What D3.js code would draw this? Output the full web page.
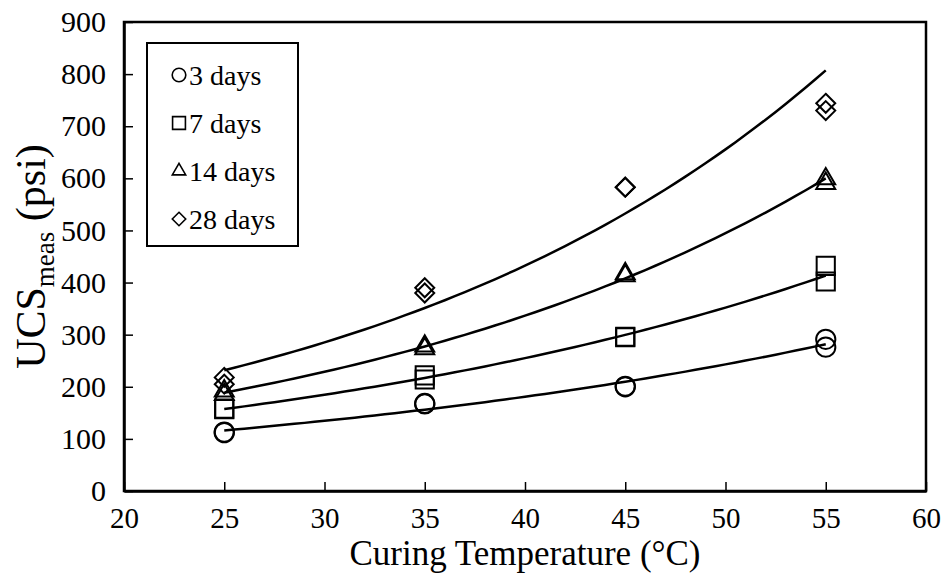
<!DOCTYPE html>
<html>
<head>
<meta charset="utf-8">
<script src="https://cdn.jsdelivr.net/npm/d3@7"></script>
<style>
  body { margin: 0; background: #fff; }
</style>
</head>
<body>
<script>
// temperatures (°C) and measured UCS (psi), two replicates each
const temps = [25, 35, 45, 55];
const ucs3 = [[113, 112], [168, 167], [201, 200], [291, 276]];
const ucs7 = [[158, 157], [222, 214], [296, 295], [432, 402]];
const ucs14 = [[192, 185], [278, 273], [417, 413], [599, 590]];
const ucs28 = [[218, 205], [390, 380], [583, 583], [744, 730]];
const seriesNames = ['3 days', '7 days', '14 days', '28 days'];
const xTicks = [20, 25, 30, 35, 40, 45, 50, 55, 60];
const yTicks = [0, 100, 200, 300, 400, 500, 600, 700, 800, 900];

const FONT = '"Liberation Serif", "Times New Roman", Tinos, "DejaVu Serif", serif';
const width = 947, height = 574;
const margin = { left: 124, right: 21, top: 22, bottom: 83 };

const svg = d3.select('body').append('svg')
  .attr('width', width)
  .attr('height', height)
  .style('font-family', FONT);

const x = d3.scaleLinear().domain([20, 60]).range([margin.left, width - margin.right]);
const y = d3.scaleLinear().domain([0, 900]).range([height - margin.bottom, margin.top]);

// square diamond: a square turned 45 degrees
const diamond = {
  draw(ctx, size) {
    const r = Math.sqrt(size) / 2 * Math.SQRT2;
    ctx.moveTo(0, -r); ctx.lineTo(r, 0); ctx.lineTo(0, r); ctx.lineTo(-r, 0); ctx.closePath();
  }
};

const series = [ucs3, ucs7, ucs14, ucs28].map((vals, i) => ({
  name: seriesNames[i],
  symbol: [d3.symbolCircle, d3.symbolSquare, d3.symbolTriangle, diamond][i],
  size: [290, 330, 155, 180][i],
  points: vals.flatMap((reps, j) => reps.map(v => ({ t: temps[j], v })))
}));

// exponential trendline: least squares on ln(UCS)
function expFit(points) {
  const mx = d3.mean(points, p => p.t);
  const my = d3.mean(points, p => Math.log(p.v));
  let sxy = 0, sxx = 0;
  points.forEach(p => {
    sxy += (p.t - mx) * (Math.log(p.v) - my);
    sxx += (p.t - mx) * (p.t - mx);
  });
  const b = sxy / sxx;
  const a = Math.exp(my - b * mx);
  return t => a * Math.exp(b * t);
}

// frame
svg.append('rect')
  .attr('x', margin.left).attr('y', margin.top)
  .attr('width', width - margin.left - margin.right)
  .attr('height', height - margin.top - margin.bottom)
  .attr('fill', 'none').attr('stroke', '#000').attr('stroke-width', 2.5);

// x axis (ticks inside)
const xAxis = svg.append('g')
  .attr('transform', `translate(0,${height - margin.bottom})`)
  .call(d3.axisBottom(x).tickValues(xTicks).tickSizeInner(-9).tickSizeOuter(0).tickPadding(16));
xAxis.select('.domain').attr('stroke-width', 2.5);
xAxis.selectAll('.tick line').attr('stroke-width', 1.5);
xAxis.selectAll('text').style('font-family', FONT).style('font-size', '29px');

// y axis (ticks inside)
const yAxis = svg.append('g')
  .attr('transform', `translate(${margin.left},0)`)
  .call(d3.axisLeft(y).tickValues(yTicks).tickSizeInner(-9).tickSizeOuter(0).tickPadding(18));
yAxis.select('.domain').attr('stroke-width', 2.5);
yAxis.selectAll('.tick line').attr('stroke-width', 1.5);
yAxis.selectAll('text').style('font-family', FONT).style('font-size', '30px');

// trend curves
const line = d3.line().x(d => x(d.t)).y(d => y(d.v));
series.forEach(s => {
  const f = expFit(s.points);
  const curve = d3.range(25, 55.01, 0.5).map(t => ({ t, v: f(t) }));
  svg.append('path')
    .datum(curve)
    .attr('d', line)
    .attr('fill', 'none')
    .attr('stroke', '#000')
    .attr('stroke-width', 2.5);
});

// markers
series.forEach(s => {
  svg.append('g').selectAll('path')
    .data(s.points)
    .join('path')
    .attr('transform', d => `translate(${x(d.t)},${y(d.v)})`)
    .attr('d', d3.symbol().type(s.symbol).size(s.size))
    .attr('fill', 'none')
    .attr('stroke', '#000')
    .attr('stroke-width', 2);
});

// legend
const legend = svg.append('g');
legend.append('rect')
  .attr('x', 147).attr('y', 43).attr('width', 151).attr('height', 203)
  .attr('fill', '#fff').attr('stroke', '#000').attr('stroke-width', 2);
series.forEach((s, i) => {
  const ly = 75 + i * 48;
  legend.append('path')
    .attr('transform', `translate(179,${ly})`)
    .attr('d', d3.symbol().type(s.symbol).size(s.size * 0.5))
    .attr('fill', 'none').attr('stroke', '#000').attr('stroke-width', 1.6);
  legend.append('text')
    .attr('x', 189).attr('y', ly + 10)
    .style('font-size', '28px')
    .text(s.name);
});

// axis titles
svg.append('text')
  .attr('x', x(40)).attr('y', 565)
  .attr('text-anchor', 'middle')
  .style('font-size', '35px')
  .text('Curing Temperature (°C)');

const yt = svg.append('text')
  .attr('transform', `translate(45,${(margin.top + height - margin.bottom) / 2}) rotate(-90)`)
  .attr('text-anchor', 'middle')
  .style('font-size', '42px');
yt.append('tspan').text('UCS');
yt.append('tspan').style('font-size', '27px').attr('dy', 9).text('meas');
yt.append('tspan').attr('dy', -9).text(' (psi)');
</script>
</body>
</html>
